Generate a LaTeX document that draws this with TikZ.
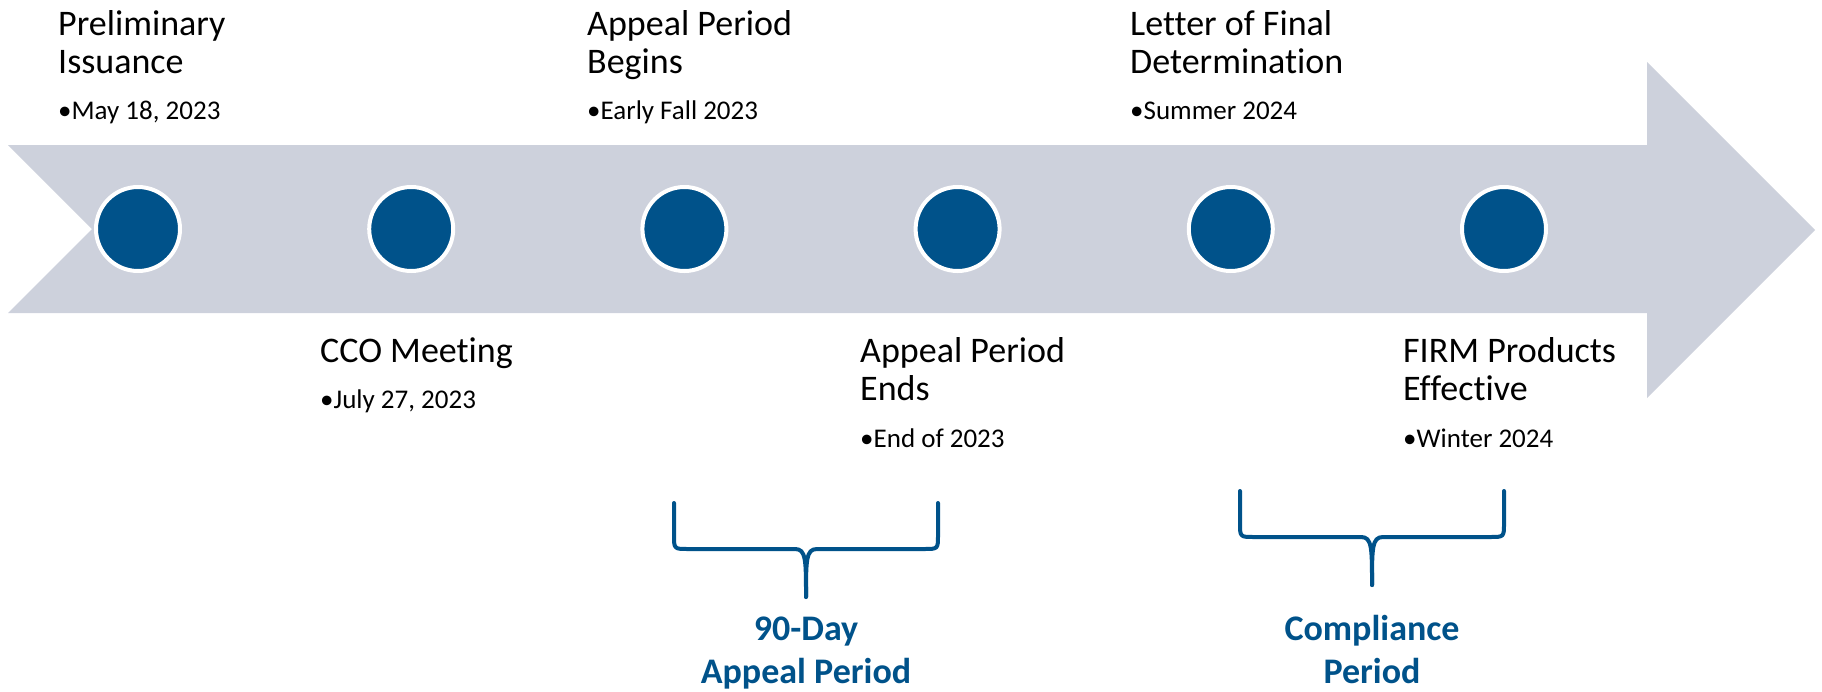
\documentclass[tikz,border=0pt]{standalone}
\usepackage{fontspec}
\setmainfont{Carlito}[Ligatures=NoCommon]
\definecolor{bandgray}{HTML}{CDD1DC}
\definecolor{dotblue}{HTML}{00528A}
\begin{document}
\begin{tikzpicture}[x=1pt,y=-1pt,
    dot/.style={circle,fill=dotblue,draw=white,line width=4pt,minimum size=84pt,inner sep=0pt},
    title/.style={anchor=base west,align=left,inner sep=0pt,font=\fontsize{36}{38}\selectfont},
    when/.style={anchor=base west,inner sep=0pt,font=\fontsize{27}{30}\selectfont},
    brace/.style={draw=dotblue,line width=4pt,line cap=round,line join=round},
    span/.style={anchor=base,align=center,inner sep=0pt,text=dotblue,font=\bfseries\fontsize{36}{43}\selectfont}]
    \useasboundingbox (0,0) rectangle (1822,691);
    \fill [bandgray] (8,145) -- (1647,145) -- (1647,62) -- (1815,230) -- (1647,398)
        -- (1647,313) -- (8,313) -- (92,229) -- cycle;
    \foreach \i in {0,...,5}
        \node [dot] (m\i) at (138+273.2*\i,229) {};
    % above the band (base = last line)
    \node [title] (t1) at (58,73) {Preliminary\\Issuance};
    \node [when] (d1) at (58,119) {•May 18, 2023};
    \node [title] (t3) at (587,73) {Appeal Period\\Begins};
    \node [when] (d3) at (587,119) {•Early Fall 2023};
    \node [title] (t5) at (1130,73) {Letter of Final\\Determination};
    \node [when] (d5) at (1130,119) {•Summer 2024};
    % below the band
    \node [title] (t2) at (320,362) {CCO Meeting};
    \node [when] (d2) at (320,408) {•July 27, 2023};
    \node [title] (t4) at (860,400) {Appeal Period\\Ends};
    \node [when] (d4) at (860,447) {•End of 2023};
    \node [title] (t6) at (1403,400) {FIRM Products\\Effective};
    \node [when] (d6) at (1403,447) {•Winter 2024};
    % braces
    \draw [brace] (674,503) -- (674,535) .. controls (674,549) .. (688,549) -- (795,549)
        .. controls (806,549) and (806,560) .. (806,597);
    \draw [brace] (938,503) -- (938,535) .. controls (938,549) .. (924,549) -- (817,549)
        .. controls (806,549) and (806,560) .. (806,597);
    \draw [brace] (1240,491) -- (1240,523) .. controls (1240,537) .. (1254,537) -- (1361,537)
        .. controls (1372,537) and (1372,548) .. (1372,585);
    \draw [brace] (1504,491) -- (1504,523) .. controls (1504,537) .. (1490,537) -- (1383,537)
        .. controls (1372,537) and (1372,548) .. (1372,585);
    \node [span] (p1) at (806,683) {90-Day\\Appeal Period};
    \node [span] (p2) at (1372,683) {Compliance\\Period};
\end{tikzpicture}
\end{document}
